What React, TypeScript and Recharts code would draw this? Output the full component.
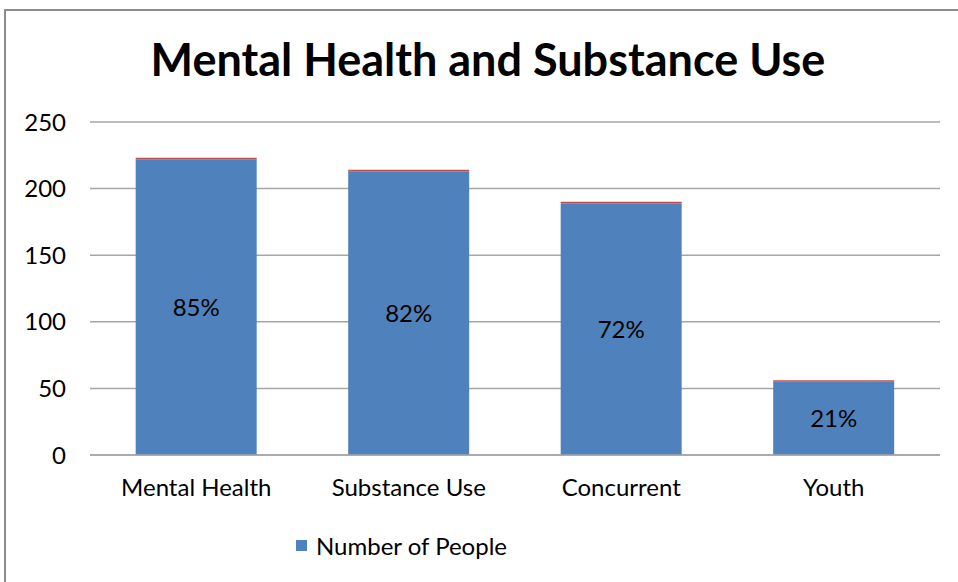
import { BarChart, Bar, XAxis, YAxis, CartesianGrid, LabelList } from 'recharts';

const categories = ['Mental Health', 'Substance Use', 'Concurrent', 'Youth'];
const people = [222, 213, 189, 55];
const topSliver = [1.2, 1.2, 1.2, 1.2];
const percents = ['85%', '82%', '72%', '21%'];
const yTicks = [0, 50, 100, 150, 200, 250];

const data = categories.map((name, i) => ({
  name,
  people: people[i],
  sliver: topSliver[i],
  pct: percents[i],
}));

const FONT = 'Lato, "Open Sans", sans-serif';
const gridStroke = '#a6a6a6';
const FS = 24;

export default function App() {
  return (
    <div style={{ position: 'absolute', left: 0, top: 0, width: 958, height: 582, overflow: 'hidden', background: '#fff' }}>
      <div
        style={{
          position: 'absolute',
          left: 4,
          top: 9,
          width: 1020,
          height: 700,
          border: '2px solid #8c8c8c',
          boxSizing: 'border-box',
        }}
      />
      <div
        style={{
          position: 'absolute',
          left: 0,
          top: 32,
          width: 976,
          textAlign: 'center',
          fontFamily: FONT,
          fontWeight: 700,
          fontSize: 45,
          color: '#000',
        }}
      >
        Mental Health and Substance Use
      </div>
      <BarChart
        width={958}
        height={582}
        data={data}
        margin={{ top: 122, right: 18, bottom: 97, left: 30 }}
        barCategoryGap="21.5%"
        style={{ position: 'absolute', left: 0, top: 0 }}
      >
        <CartesianGrid vertical={false} stroke={gridStroke} strokeWidth={1.5} />
        <XAxis
          dataKey="name"
          axisLine={{ stroke: gridStroke, strokeWidth: 1.5 }}
          tickLine={false}
          tickSize={0}
          tickMargin={24}
          tick={{ fill: '#000', fontSize: FS, fontFamily: FONT }}
          interval={0}
        />
        <YAxis
          domain={[0, 250]}
          ticks={yTicks}
          width={60}
          axisLine={false}
          tickLine={false}
          tickSize={0}
          tickMargin={24}
          tick={{ fill: '#000', fontSize: FS, fontFamily: FONT }}
        />
        <Bar dataKey="people" stackId="a" fill="#4F81BD" isAnimationActive={false}>
          <LabelList dataKey="pct" position="center" fill="#000" fontSize={FS} fontFamily={FONT} />
        </Bar>
        <Bar dataKey="sliver" stackId="a" fill="#C0504D" legendType="none" isAnimationActive={false} />
      </BarChart>
      <div
        style={{
          position: 'absolute',
          left: 296,
          top: 531,
          display: 'flex',
          alignItems: 'center',
          fontFamily: FONT,
          fontSize: FS,
          color: '#000',
        }}
      >
        <span style={{ width: 11, height: 11, background: '#4F81BD', display: 'inline-block', marginRight: 9 }} />
        Number of People
      </div>
    </div>
  );
}
